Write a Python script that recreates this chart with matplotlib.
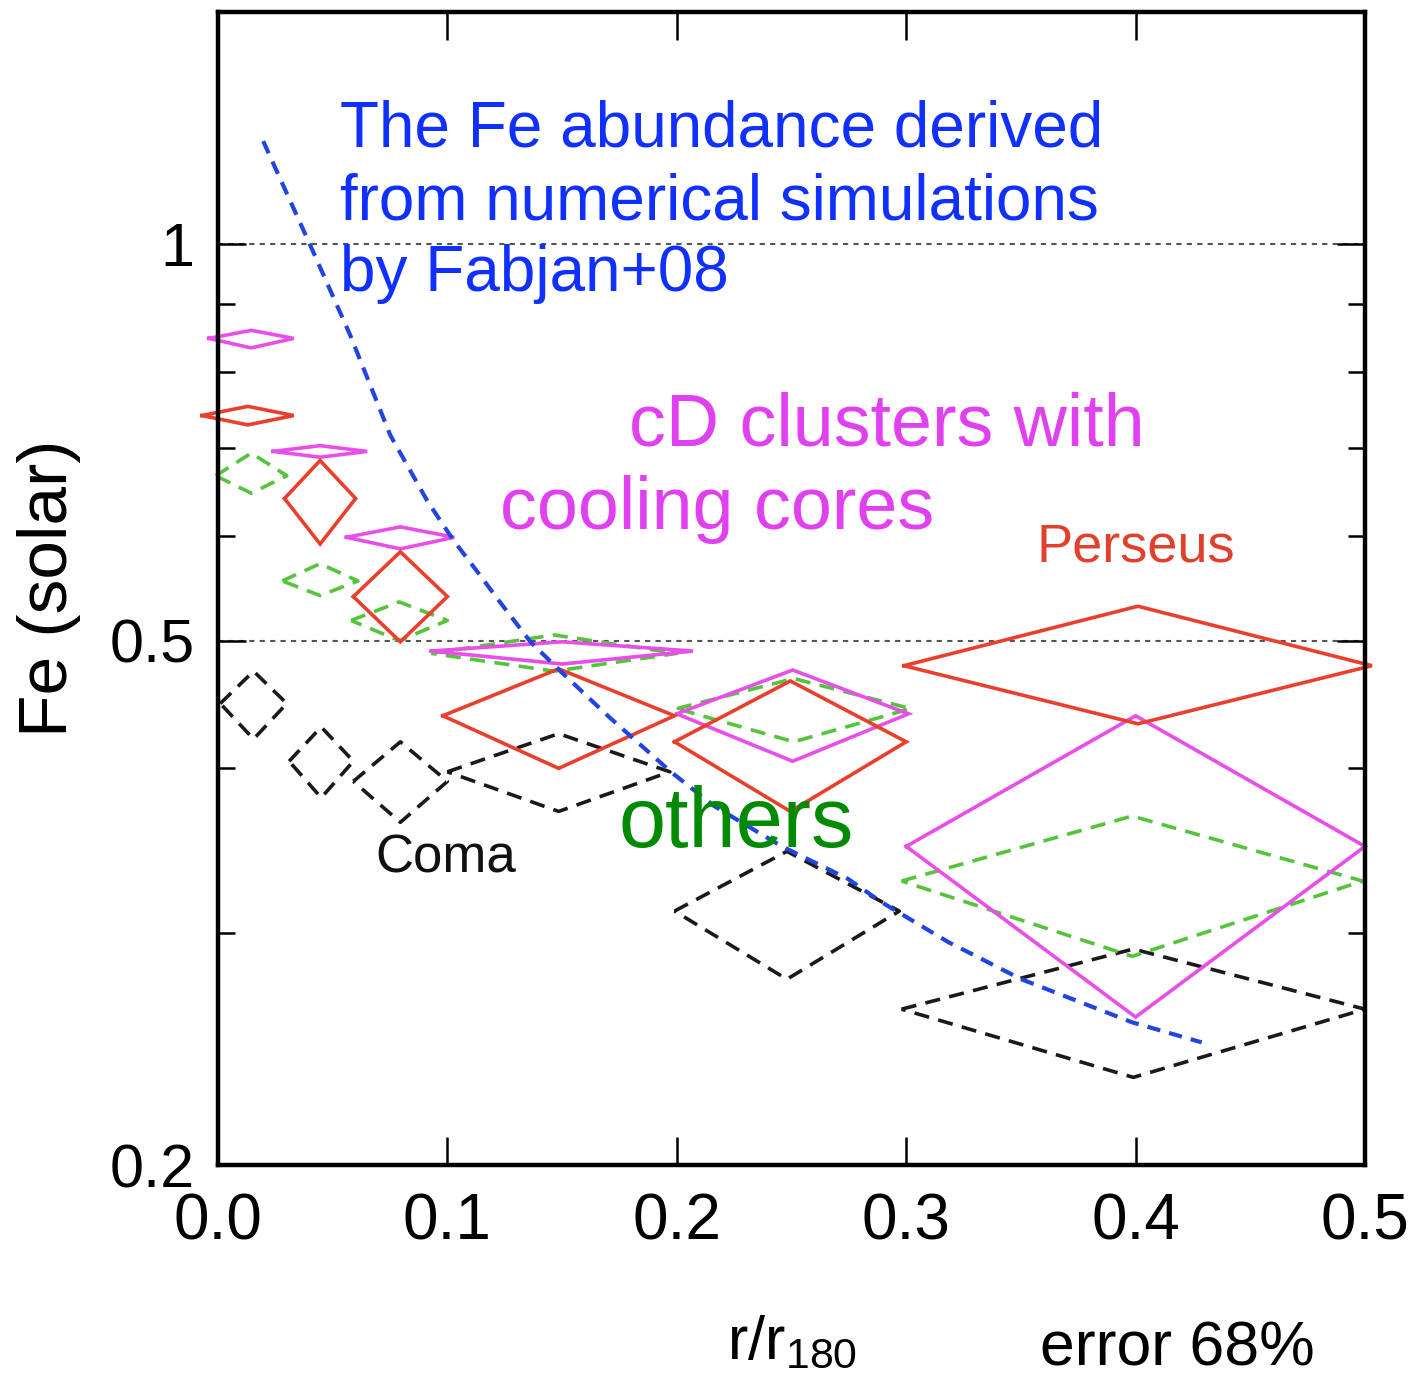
import matplotlib
matplotlib.use('Agg')
import matplotlib.pyplot as plt

plt.rcParams['font.family'] = ['Liberation Sans', 'DejaVu Sans']
plt.rcParams['mathtext.fontset'] = 'custom'
plt.rcParams['mathtext.rm'] = 'Liberation Sans'

# Fe abundance profiles: radial bin edges (r/r180), value and 68% range
cd_r_lo = [-0.004, 0.024, 0.056, 0.093, 0.200, 0.300]
cd_r_hi = [0.033, 0.065, 0.103, 0.207, 0.301, 0.500]
cd_fe = [0.848, 0.696, 0.599, 0.491, 0.440, 0.349]
cd_fe_lo = [0.834, 0.689, 0.587, 0.480, 0.405, 0.259]
cd_fe_hi = [0.860, 0.703, 0.610, 0.499, 0.475, 0.4385]

per_r_lo = [-0.007, 0.029, 0.059, 0.098, 0.199, 0.299]
per_r_hi = [0.033, 0.060, 0.100, 0.199, 0.300, 0.503]
per_fe = [0.741, 0.641, 0.540, 0.4385, 0.419, 0.4786]
per_fe_lo = [0.729, 0.592, 0.499, 0.400, 0.371, 0.4324]
per_fe_hi = [0.753, 0.685, 0.584, 0.476, 0.466, 0.531]

oth_r_lo = [-0.001, 0.028, 0.058, 0.093, 0.200, 0.298]
oth_r_hi = [0.030, 0.061, 0.100, 0.200, 0.302, 0.499]
oth_fe = [0.667, 0.555, 0.518, 0.489, 0.444, 0.3285]
oth_fe_lo = [0.647, 0.541, 0.500, 0.474, 0.419, 0.288]
oth_fe_hi = [0.694, 0.572, 0.535, 0.505, 0.468, 0.368]

coma_r_lo = [0.001, 0.031, 0.059, 0.100, 0.199, 0.298]
coma_r_hi = [0.030, 0.059, 0.100, 0.197, 0.297, 0.500]
coma_fe = [0.448, 0.405, 0.391, 0.3976, 0.3117, 0.2626]
coma_fe_lo = [0.421, 0.380, 0.364, 0.371, 0.2767, 0.2331]
coma_fe_hi = [0.474, 0.430, 0.419, 0.425, 0.346, 0.2917]

# simulated profile (Fabjan+08)
sim_r = [0.0197, 0.0402, 0.0576, 0.0751, 0.0913, 0.1026, 0.1144, 0.1218,
         0.1362, 0.1493, 0.1699, 0.1974, 0.2162, 0.2454, 0.2747, 0.2891,
         0.3183, 0.3502, 0.3983, 0.4288]
sim_fe = [1.197, 0.998, 0.853, 0.716, 0.638, 0.596, 0.560, 0.538,
          0.499, 0.474, 0.4385, 0.3976, 0.3746, 0.3493, 0.3297, 0.3167,
          0.2953, 0.2767, 0.2567, 0.2478]

x_ticks = [0.0, 0.1, 0.2, 0.3, 0.4, 0.5]
x_tick_labels = ['0.0', '0.1', '0.2', '0.3', '0.4', '0.5']
y_ticks = [0.2, 0.5, 1.0]
y_tick_labels = ['0.2', '0.5', '1']
y_minor = [0.3, 0.4, 0.6, 0.7, 0.8, 0.9]

DASH = (0, (4.2, 2.6))


def draw_diamonds(ax, r_lo, r_hi, fe, fe_lo, fe_hi, **kw):
    for x0, x1, y, y0, y1 in zip(r_lo, r_hi, fe, fe_lo, fe_hi):
        xc = 0.5 * (x0 + x1)
        ax.plot([x0, xc, x1, xc, x0], [y, y1, y, y0, y],
                clip_on=False, solid_joinstyle='miter', **kw)


fig = plt.figure(figsize=(14.2, 13.78), dpi=100)
ax = fig.add_axes([218 / 1420, 213 / 1378, 1147 / 1420, 1153 / 1378])
ax.set_yscale('log')
ax.set_xlim(0, 0.5)
ax.set_ylim(0.2, 1.5)

for level in (0.5, 1.0):
    ax.axhline(level, color='#555555', lw=1.5, ls=(0, (2.5, 2.5)), zorder=1)

draw_diamonds(ax, coma_r_lo, coma_r_hi, coma_fe, coma_fe_lo, coma_fe_hi,
              color='#1a1a1a', lw=2.6, ls=DASH)
draw_diamonds(ax, oth_r_lo, oth_r_hi, oth_fe, oth_fe_lo, oth_fe_hi,
              color='#55c43c', lw=2.6, ls=DASH)
draw_diamonds(ax, cd_r_lo, cd_r_hi, cd_fe, cd_fe_lo, cd_fe_hi,
              color='#e84ee8', lw=2.6)
draw_diamonds(ax, per_r_lo, per_r_hi, per_fe, per_fe_lo, per_fe_hi,
              color='#e8402c', lw=2.6)

ax.plot(sim_r, sim_fe, color='#2244e0', lw=3.0, ls=(0, (3.2, 2.2)))

# axes frame and ticks
for sp in ax.spines.values():
    sp.set_linewidth(3.2)
ax.set_xticks(x_ticks)
ax.set_xticklabels(x_tick_labels)
ax.set_yticks(y_ticks)
ax.set_yticklabels(y_tick_labels)
ax.set_yticks(y_minor, minor=True)
ax.set_yticklabels([], minor=True)
ax.tick_params(which='both', direction='in', top=True, right=True, width=1.8)
ax.tick_params(which='major', length=20)
ax.tick_params(which='minor', length=12)
ax.tick_params(axis='x', labelsize=46, pad=20)
ax.tick_params(axis='y', labelsize=44, pad=17)

ax.set_xlabel(r'r/r$_{\mathrm{180}}$', fontsize=44, labelpad=45)
ax.set_ylabel('Fe (solar)', fontsize=50, labelpad=20)

# annotations
blue_lines = ['The Fe abundance derived', 'from numerical simulations',
              'by Fabjan+08']
blue_base = [1.185, 1.043, 0.921]
for txt, yb in zip(blue_lines, blue_base):
    ax.text(0.0533, yb, txt, color='#1030ff', fontsize=46, va='baseline')

ax.text(0.179, 0.703, 'cD clusters with', color='#e040f0', fontsize=53,
        va='baseline')
ax.text(0.1231, 0.608, 'cooling cores', color='#e040f0', fontsize=53,
        va='baseline')
ax.text(0.1747, 0.3485, 'others', color='#008a00', fontsize=61,
        va='baseline')
ax.text(0.3568, 0.574, 'Perseus', color='#e0402c', fontsize=39,
        va='baseline')
ax.text(0.0686, 0.3337, 'Coma', color='#111111', fontsize=38,
        va='baseline')

fig.text(1040 / 1420, 0.0, 'error 68%', fontsize=45, va='bottom')

fig.savefig('out.png', dpi=100)
